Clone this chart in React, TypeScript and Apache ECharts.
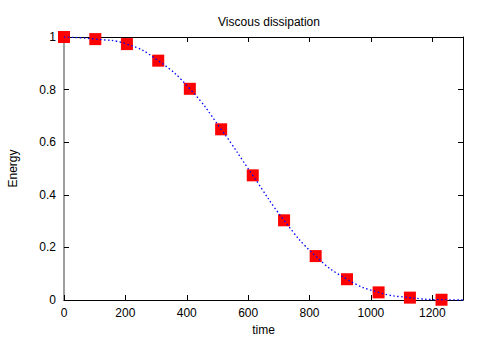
import React, { useEffect, useRef } from "react";
import * as echarts from "echarts";

// sampled points (red squares)
const times = [0, 102, 205, 307, 410, 512, 615, 717, 820, 922, 1025, 1127, 1230];
const energy = [1.0, 0.992, 0.973, 0.91, 0.803, 0.649, 0.474, 0.303, 0.167, 0.079, 0.029, 0.009, 0.001];
// the dotted curve continues to the right edge of the plot
const curveTailTime = [1300];
const curveTailEnergy = [0];
const xTicks = [0, 200, 400, 600, 800, 1000, 1200];
const yTicks = [0, 0.2, 0.4, 0.6, 0.8, 1];

const FONT = "Liberation Sans";

export default function App() {
  const ref = useRef<HTMLDivElement>(null);
  useEffect(() => {
    if (!ref.current) return;
    const chart = echarts.init(ref.current, null, { renderer: "svg" });
    const pts = times.map((t, i) => [t, energy[i]]);
    const tail = curveTailTime.map((t, i) => [t, curveTailEnergy[i]]);
    const tickStyle = { inside: true, length: 5, lineStyle: { color: "#000", width: 1 } };
    chart.setOption({
      animation: false,
      backgroundColor: "#fff",
      title: {
        text: "Viscous dissipation",
        left: 264,
        top: 11,
        textAlign: "center",
        textStyle: { fontFamily: FONT, fontSize: 12, fontWeight: "normal", color: "#000" },
      },
      grid: { left: 64, right: 22, top: 37, bottom: 39, containLabel: false, outerBoundsMode: "none" },
      xAxis: [
        {
          type: "value",
          min: 0,
          max: 1300,
          interval: 200,
          name: "time",
          nameLocation: "middle",
          nameGap: 24,
          nameTextStyle: { fontFamily: FONT, fontSize: 12, color: "#000" },
          axisLine: { show: true, onZero: false, lineStyle: { color: "#000", width: 1 } },
          axisTick: tickStyle,
          axisLabel: {
            fontFamily: FONT,
            fontSize: 12,
            color: "#000",
            margin: 7,
            formatter: (v: number) => (xTicks.includes(Math.round(v)) ? String(Math.round(v)) : ""),
          },
          splitLine: { show: false },
        },
        {
          type: "value",
          position: "top",
          min: 0,
          max: 1300,
          interval: 200,
          axisLine: { show: true, onZero: false, lineStyle: { color: "#000", width: 1 } },
          axisTick: tickStyle,
          axisLabel: { show: false },
          splitLine: { show: false },
        },
      ],
      yAxis: [
        {
          type: "value",
          min: 0,
          max: 1,
          interval: 0.2,
          name: "Energy",
          nameLocation: "middle",
          nameGap: 45,
          nameTextStyle: { fontFamily: FONT, fontSize: 12, color: "#000" },
          axisLine: { show: true, onZero: false, lineStyle: { color: "#7f7f7f", width: 1.5 } },
          axisTick: tickStyle,
          axisLabel: {
            fontFamily: FONT,
            fontSize: 12,
            color: "#000",
            margin: 8,
            formatter: (v: number) => (yTicks.includes(+v.toFixed(1)) ? String(+v.toFixed(1)) : ""),
          },
          splitLine: { show: false },
        },
        {
          type: "value",
          position: "right",
          min: 0,
          max: 1,
          interval: 0.2,
          axisLine: { show: true, onZero: false, lineStyle: { color: "#000", width: 1 } },
          axisTick: tickStyle,
          axisLabel: { show: false },
          splitLine: { show: false },
        },
      ],
      series: [
        {
          type: "scatter",
          data: pts,
          symbol: "rect",
          symbolSize: 12,
          itemStyle: { color: "#ff0000", opacity: 1 },
          z: 2,
          clip: false,
        },
        {
          type: "line",
          data: [...pts, ...tail],
          smooth: 0.5,
          showSymbol: false,
          symbol: "none",
          lineStyle: { color: "#0000ff", width: 1.3, type: [1.5, 2.5] },
          z: 3,
          clip: true,
        },
      ],
    });
    return () => chart.dispose();
  }, []);
  return <div ref={ref} style={{ width: 485, height: 339, position: "absolute", left: 0, top: 0 }} />;
}
